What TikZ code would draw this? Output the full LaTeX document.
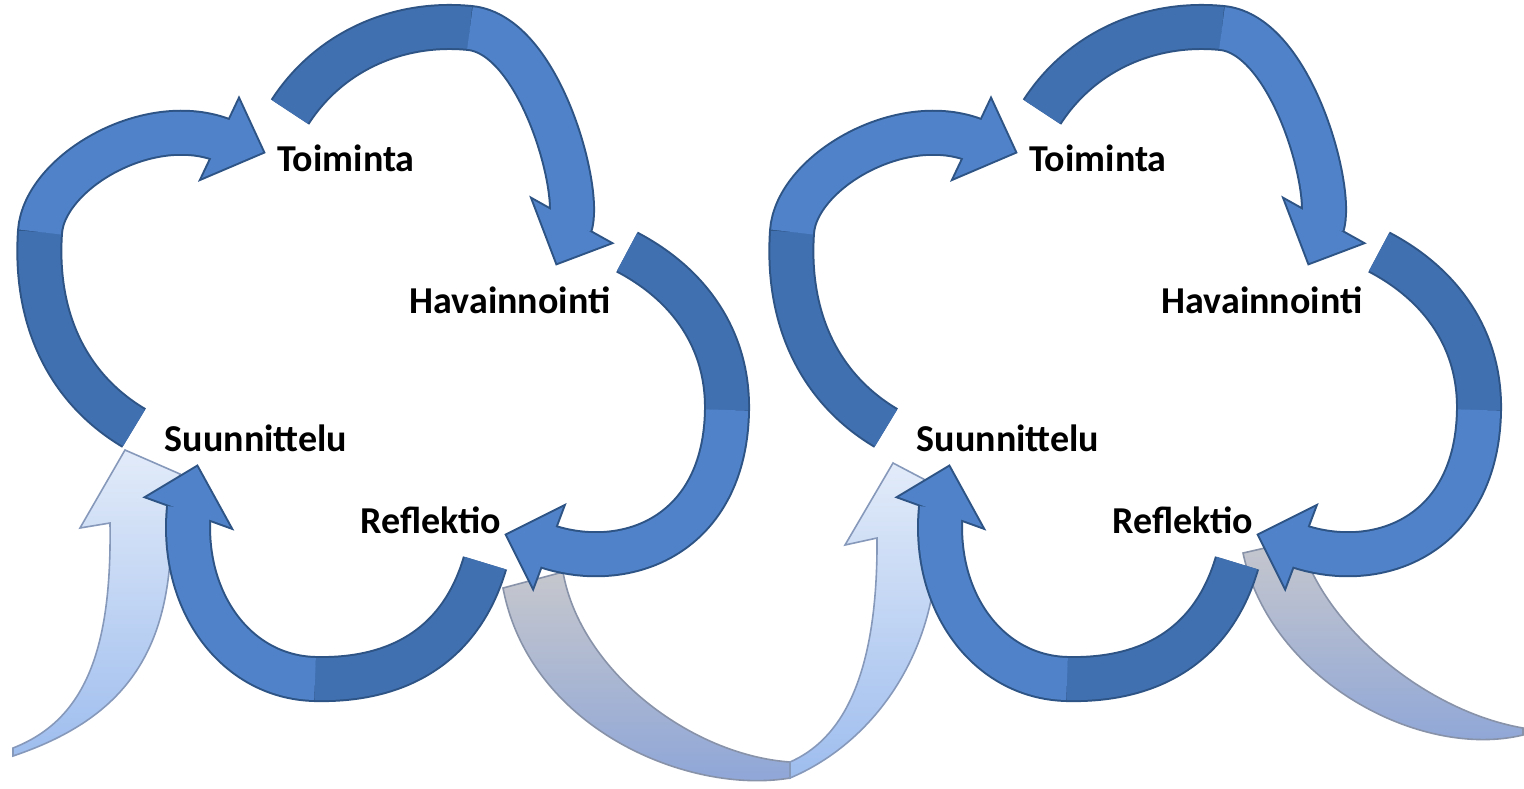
\documentclass[tikz,border=0pt]{standalone}
\usepackage{fontspec}
\setmainfont{Carlito}
\definecolor{abl}{HTML}{4F82C8}
\definecolor{abd}{HTML}{4170B1}
\definecolor{aout}{HTML}{2E5485}
\definecolor{ltop}{HTML}{E2EBF9}
\definecolor{lbot}{HTML}{9EBDEE}
\definecolor{lout}{HTML}{8799BB}
\definecolor{gtop}{HTML}{C6C7CD}
\definecolor{gbot}{HTML}{8BA4D8}
\definecolor{gout}{HTML}{8892A8}
\begin{document}
\begin{tikzpicture}[x=0.5pt,y=-0.5pt,
  lbl/.style={font=\fontsize{19pt}{19pt}\selectfont\bfseries, inner sep=0pt, text=black},
  shaftout/.style={draw=aout, line width=23pt},
  shaftd/.style={draw=abd, line width=21pt},
  shaftl/.style={draw=abl, line width=21pt},
  headout/.style={fill=aout, draw=aout, line width=2pt, line join=miter},
  headfill/.style={fill=abl},
  lightarr/.style={draw=lout, line width=0.8pt, top color=ltop, bottom color=lbot},
  greyarr/.style={draw=gout, line width=0.8pt, top color=gtop, bottom color=gbot}]
\useasboundingbox (0,0) rectangle (1524,788);
\fill[white] (0,0) rectangle (1524,788);

% ---- light and grey connectors (behind) ----
\coordinate (Et1) at (13,748);
\coordinate (Et2) at (13,756);
\coordinate (Eh) at (125,450);
\path[lightarr] (Et1) .. controls (85,720) and (112,650) .. (110,523) -- (80,528) -- (Eh) -- (180,474) -- (171,510) .. controls (175,640) and (135,715) .. (Et2) -- cycle;

\coordinate (Fa) at (503,588);
\coordinate (Fb) at (563,572);
\coordinate (Fj1) at (790,762);
\coordinate (Fj2) at (790,778);
\path[greyarr] (Fa) -- (Fb) .. controls (580,670) and (690,755) .. (Fj1) -- (Fj2) .. controls (690,795) and (530,730) .. (Fa) -- cycle;

\coordinate (E2h) at (893,463);
\path[lightarr] (Fj1) .. controls (840,740) and (878,680) .. (877,538) -- (845,545) -- (E2h) -- (933,484) -- (936,522) .. controls (945,640) and (880,740) .. (Fj2) -- cycle;

\coordinate (Ga) at (1243,553);
\coordinate (Gb) at (1300,540);
\coordinate (Ge1) at (1523,728);
\coordinate (Ge2) at (1523,735);
\path[greyarr] (Ga) -- (Gb) .. controls (1320,620) and (1420,710) .. (Ge1) -- (Ge2) .. controls (1420,760) and (1270,680) .. (Ga) -- cycle;

% ---- the two cycles ----
\foreach \s/\k in {0/L,752/R}{
  \node[lbl] (toi\k) at (\s+346,158) {Toiminta};
  \node[lbl] (hav\k) at (\s+510,300) {Havainnointi};
  \node[lbl] (suu\k) at (\s+256,438) {Suunnittelu};
  \node[lbl] (ref\k) at (\s+431,520) {Reflektio};

  % arrow A: Suunnittelu -> Toiminta
  \coordinate (At\k) at (\s+134,428);
  \coordinate (Am\k) at (\s+40,232);
  \coordinate (Ab\k) at (\s+225,141);
  \coordinate (Ah\k) at (\s+263,152);
  \coordinate (Ac\k) at (\s+239,100);
  \coordinate (Ad\k) at (\s+202,178);
  \draw[shaftout] (At\k) .. controls +(-64,-38) and +(-6,90) .. (Am\k) .. controls +(4,-60) and +(-75,-31) .. (Ab\k);
  \filldraw[headout] (Ac\k) -- (Ah\k) -- (Ad\k) -- cycle;
  \draw[shaftd] (At\k) .. controls +(-64,-38) and +(-6,90) .. (Am\k);
  \draw[shaftl] (Am\k) .. controls +(4,-60) and +(-75,-31) .. (Ab\k);
  \fill[headfill] (Ac\k) -- (Ah\k) -- (Ad\k) -- cycle;

  % arrow B: Toiminta -> Havainnointi
  \coordinate (Bt\k) at (\s+290,112);
  \coordinate (Bm\k) at (\s+470,28);
  \coordinate (Bb\k) at (\s+570,226);
  \coordinate (Bh\k) at (\s+557,263);
  \coordinate (Bc\k) at (\s+533,200);
  \coordinate (Bd\k) at (\s+610,243);
  \draw[shaftout] (Bt\k) .. controls +(40,-62) and +(-70,-7) .. (Bm\k) .. controls +(70,7) and +(12,-35) .. (Bb\k);
  \filldraw[headout] (Bc\k) -- (Bh\k) -- (Bd\k) -- cycle;
  \draw[shaftd] (Bt\k) .. controls +(40,-62) and +(-70,-7) .. (Bm\k);
  \draw[shaftl] (Bm\k) .. controls +(70,7) and +(12,-35) .. (Bb\k);
  \fill[headfill] (Bc\k) -- (Bh\k) -- (Bd\k) -- cycle;

  % arrow C: Havainnointi -> Reflektio
  \coordinate (Ct\k) at (\s+627,252);
  \coordinate (Cm\k) at (\s+727,410);
  \coordinate (Cb\k) at (\s+546,546);
  \coordinate (Ch\k) at (\s+507,535);
  \coordinate (Cc\k) at (\s+563,507);
  \coordinate (Cd\k) at (\s+533,587);
  \draw[shaftout] (Ct\k) .. controls +(63,33) and +(1,-70) .. (Cm\k) .. controls +(-2,125) and +(81,27) .. (Cb\k);
  \filldraw[headout] (Cc\k) -- (Ch\k) -- (Cd\k) -- cycle;
  \draw[shaftd] (Ct\k) .. controls +(63,33) and +(1,-70) .. (Cm\k);
  \draw[shaftl] (Cm\k) .. controls +(-2,125) and +(81,27) .. (Cb\k);
  \fill[headfill] (Cc\k) -- (Ch\k) -- (Cd\k) -- cycle;

  % arrow D: Reflektio -> Suunnittelu
  \coordinate (Dt\k) at (\s+485,563);
  \coordinate (Dm\k) at (\s+315,679);
  \coordinate (Db\k) at (\s+189,508);
  \coordinate (Dh\k) at (\s+197,467);
  \coordinate (Dc\k) at (\s+147,497);
  \coordinate (Dd\k) at (\s+230,527);
  \draw[shaftout] (Dt\k) .. controls +(-25,85) and +(80,2) .. (Dm\k) .. controls +(-80,-2) and +(-9,92) .. (Db\k);
  \filldraw[headout] (Dc\k) -- (Dh\k) -- (Dd\k) -- cycle;
  \draw[shaftd] (Dt\k) .. controls +(-25,85) and +(80,2) .. (Dm\k);
  \draw[shaftl] (Dm\k) .. controls +(-80,-2) and +(-9,92) .. (Db\k);
  \fill[headfill] (Dc\k) -- (Dh\k) -- (Dd\k) -- cycle;
}
\end{tikzpicture}
\end{document}
